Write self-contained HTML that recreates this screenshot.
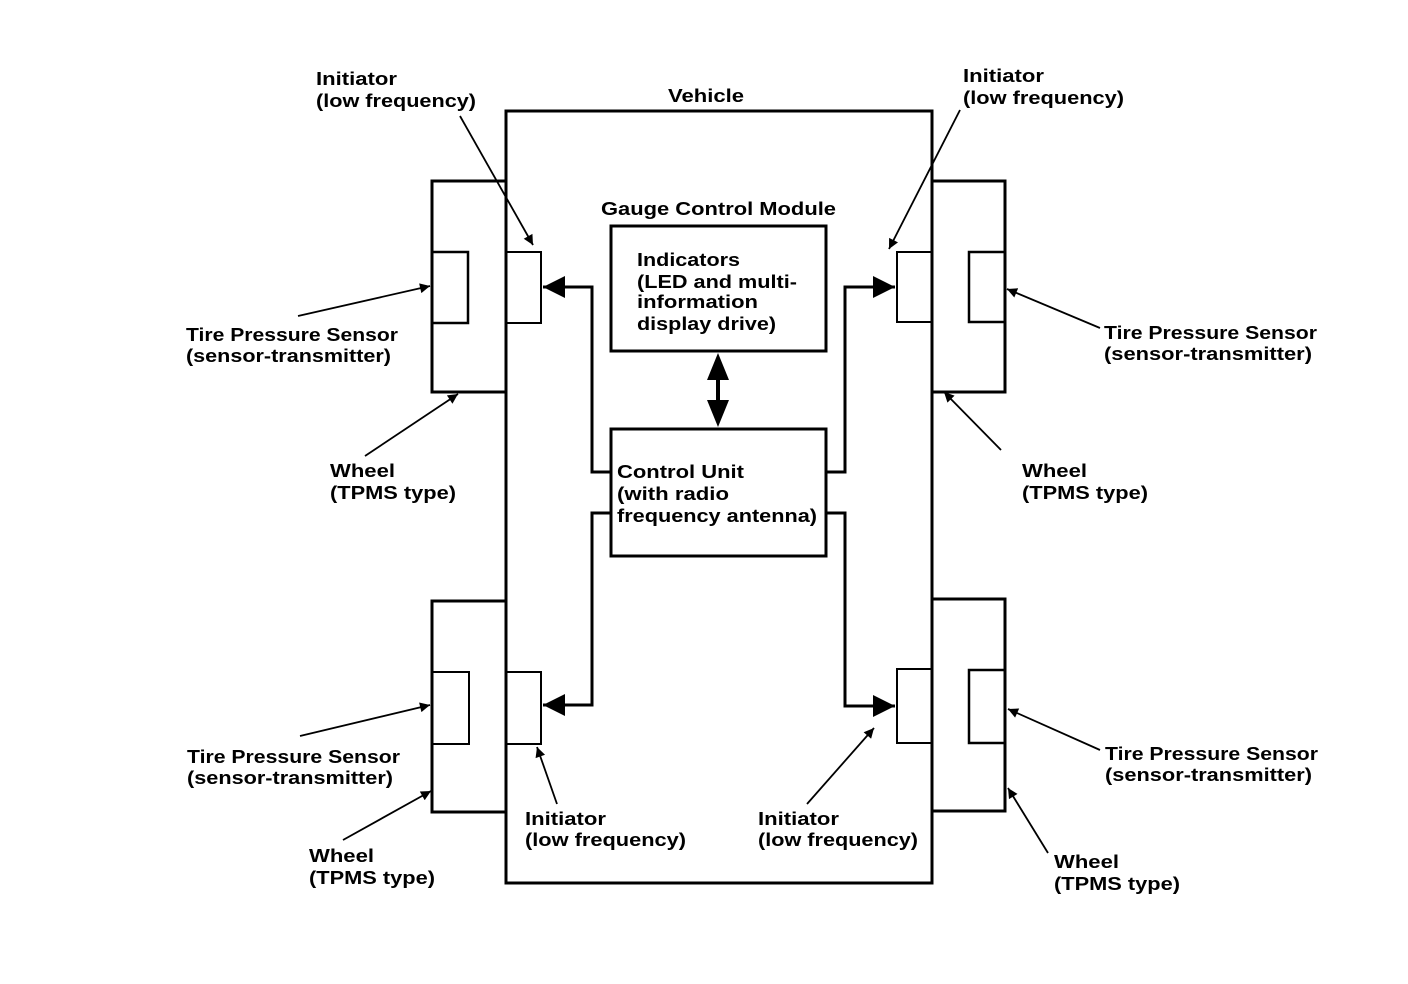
<!DOCTYPE html>
<html><head><meta charset="utf-8"><style>
html,body{margin:0;padding:0;background:#fff;}
svg{display:block;}
text{font-family:"Liberation Sans",Arial,sans-serif;font-weight:bold;font-size:18px;fill:#000;}
</style></head><body>
<svg width="1408" height="984" viewBox="0 0 1408 984" xmlns="http://www.w3.org/2000/svg">
<defs>
<marker id="s" viewBox="0 0 10 10" refX="10" refY="5" markerWidth="18" markerHeight="10" markerUnits="userSpaceOnUse" orient="auto"><path d="M0,0 L10,5 L0,10 Z" fill="#000"/></marker>
<marker id="b" viewBox="0 0 10 10" refX="10" refY="5" markerWidth="26" markerHeight="22" markerUnits="userSpaceOnUse" orient="auto"><path d="M0,0 L10,5 L0,10 Z" fill="#000"/></marker>
</defs>
<g fill="none" stroke="#000">
<rect x="506" y="111" width="426" height="772" stroke-width="3"/>
<polyline points="506,181 432,181 432,392 506,392" stroke-width="3"/>
<polyline points="932,181 1005,181 1005,392 932,392" stroke-width="3"/>
<polyline points="506,601 432,601 432,812 506,812" stroke-width="3"/>
<polyline points="932,599 1005,599 1005,811 932,811" stroke-width="3"/>
<polyline points="432,252 468,252 468,323 432,323" stroke-width="2.5"/>
<polyline points="1005,252 969,252 969,322 1005,322" stroke-width="2.5"/>
<polyline points="432,672 469,672 469,744 432,744" stroke-width="2"/>
<polyline points="1005,670 969,670 969,743 1005,743" stroke-width="2.5"/>
<polyline points="506,252 541,252 541,323 506,323" stroke-width="2"/>
<polyline points="932,252 897,252 897,322 932,322" stroke-width="2"/>
<polyline points="506,672 541,672 541,744 506,744" stroke-width="2"/>
<polyline points="932,669 897,669 897,743 932,743" stroke-width="2"/>
<rect x="611" y="226" width="215" height="125" stroke-width="3"/>
<rect x="611" y="429" width="215" height="127" stroke-width="3"/>
<polyline points="611,472 592,472 592,287 543,287" stroke-width="3" marker-end="url(#b)"/>
<polyline points="826,472 845,472 845,287 895,287" stroke-width="3" marker-end="url(#b)"/>
<polyline points="611,513 592,513 592,705 543,705" stroke-width="3" marker-end="url(#b)"/>
<polyline points="826,513 845,513 845,706 895,706" stroke-width="3" marker-end="url(#b)"/>
<line x1="718" y1="375" x2="718" y2="405" stroke-width="4"/>
<g stroke-width="1.8">
<line x1="460" y1="116" x2="533" y2="245" marker-end="url(#s)"/>
<line x1="298" y1="316" x2="430" y2="286" marker-end="url(#s)"/>
<line x1="365" y1="456" x2="458" y2="394" marker-end="url(#s)"/>
<line x1="960" y1="110" x2="889" y2="249" marker-end="url(#s)"/>
<line x1="1100" y1="328" x2="1007" y2="289" marker-end="url(#s)"/>
<line x1="1001" y1="450" x2="944" y2="392" marker-end="url(#s)"/>
<line x1="300" y1="736" x2="430" y2="705" marker-end="url(#s)"/>
<line x1="343" y1="840" x2="431" y2="791" marker-end="url(#s)"/>
<line x1="557" y1="804" x2="537" y2="747" marker-end="url(#s)"/>
<line x1="807" y1="804" x2="874" y2="728" marker-end="url(#s)"/>
<line x1="1100" y1="750" x2="1008" y2="709" marker-end="url(#s)"/>
<line x1="1048" y1="853" x2="1008" y2="788" marker-end="url(#s)"/>
</g>
</g>
<polygon points="718,353 707,380 729,380" fill="#000"/>
<polygon points="718,427 707,400 729,400" fill="#000"/>
<text x="316" y="85" textLength="81" lengthAdjust="spacingAndGlyphs">Initiator</text>
<text x="316" y="107" textLength="160" lengthAdjust="spacingAndGlyphs">(low frequency)</text>
<text x="668" y="102" textLength="76" lengthAdjust="spacingAndGlyphs">Vehicle</text>
<text x="963" y="82" textLength="81" lengthAdjust="spacingAndGlyphs">Initiator</text>
<text x="963" y="104" textLength="161" lengthAdjust="spacingAndGlyphs">(low frequency)</text>
<text x="601" y="215" textLength="235" lengthAdjust="spacingAndGlyphs">Gauge Control Module</text>
<text x="637" y="266" textLength="103" lengthAdjust="spacingAndGlyphs">Indicators</text>
<text x="637" y="288" textLength="160" lengthAdjust="spacingAndGlyphs">(LED and multi-</text>
<text x="637" y="308" textLength="121" lengthAdjust="spacingAndGlyphs">information</text>
<text x="637" y="330" textLength="139" lengthAdjust="spacingAndGlyphs">display drive)</text>
<text x="617" y="478" textLength="127" lengthAdjust="spacingAndGlyphs">Control Unit</text>
<text x="617" y="500" textLength="112" lengthAdjust="spacingAndGlyphs">(with radio</text>
<text x="617" y="522" textLength="200" lengthAdjust="spacingAndGlyphs">frequency antenna)</text>
<text x="186" y="341" textLength="212" lengthAdjust="spacingAndGlyphs">Tire Pressure Sensor</text>
<text x="186" y="362" textLength="205" lengthAdjust="spacingAndGlyphs">(sensor-transmitter)</text>
<text x="330" y="477" textLength="65" lengthAdjust="spacingAndGlyphs">Wheel</text>
<text x="330" y="499" textLength="126" lengthAdjust="spacingAndGlyphs">(TPMS type)</text>
<text x="1104" y="339" textLength="213" lengthAdjust="spacingAndGlyphs">Tire Pressure Sensor</text>
<text x="1104" y="360" textLength="208" lengthAdjust="spacingAndGlyphs">(sensor-transmitter)</text>
<text x="1022" y="477" textLength="65" lengthAdjust="spacingAndGlyphs">Wheel</text>
<text x="1022" y="499" textLength="126" lengthAdjust="spacingAndGlyphs">(TPMS type)</text>
<text x="187" y="763" textLength="213" lengthAdjust="spacingAndGlyphs">Tire Pressure Sensor</text>
<text x="187" y="784" textLength="206" lengthAdjust="spacingAndGlyphs">(sensor-transmitter)</text>
<text x="309" y="862" textLength="65" lengthAdjust="spacingAndGlyphs">Wheel</text>
<text x="309" y="884" textLength="126" lengthAdjust="spacingAndGlyphs">(TPMS type)</text>
<text x="525" y="825" textLength="81" lengthAdjust="spacingAndGlyphs">Initiator</text>
<text x="525" y="846" textLength="161" lengthAdjust="spacingAndGlyphs">(low frequency)</text>
<text x="758" y="825" textLength="81" lengthAdjust="spacingAndGlyphs">Initiator</text>
<text x="758" y="846" textLength="160" lengthAdjust="spacingAndGlyphs">(low frequency)</text>
<text x="1105" y="760" textLength="213" lengthAdjust="spacingAndGlyphs">Tire Pressure Sensor</text>
<text x="1105" y="781" textLength="207" lengthAdjust="spacingAndGlyphs">(sensor-transmitter)</text>
<text x="1054" y="868" textLength="65" lengthAdjust="spacingAndGlyphs">Wheel</text>
<text x="1054" y="890" textLength="126" lengthAdjust="spacingAndGlyphs">(TPMS type)</text>
</svg>
</body></html>
